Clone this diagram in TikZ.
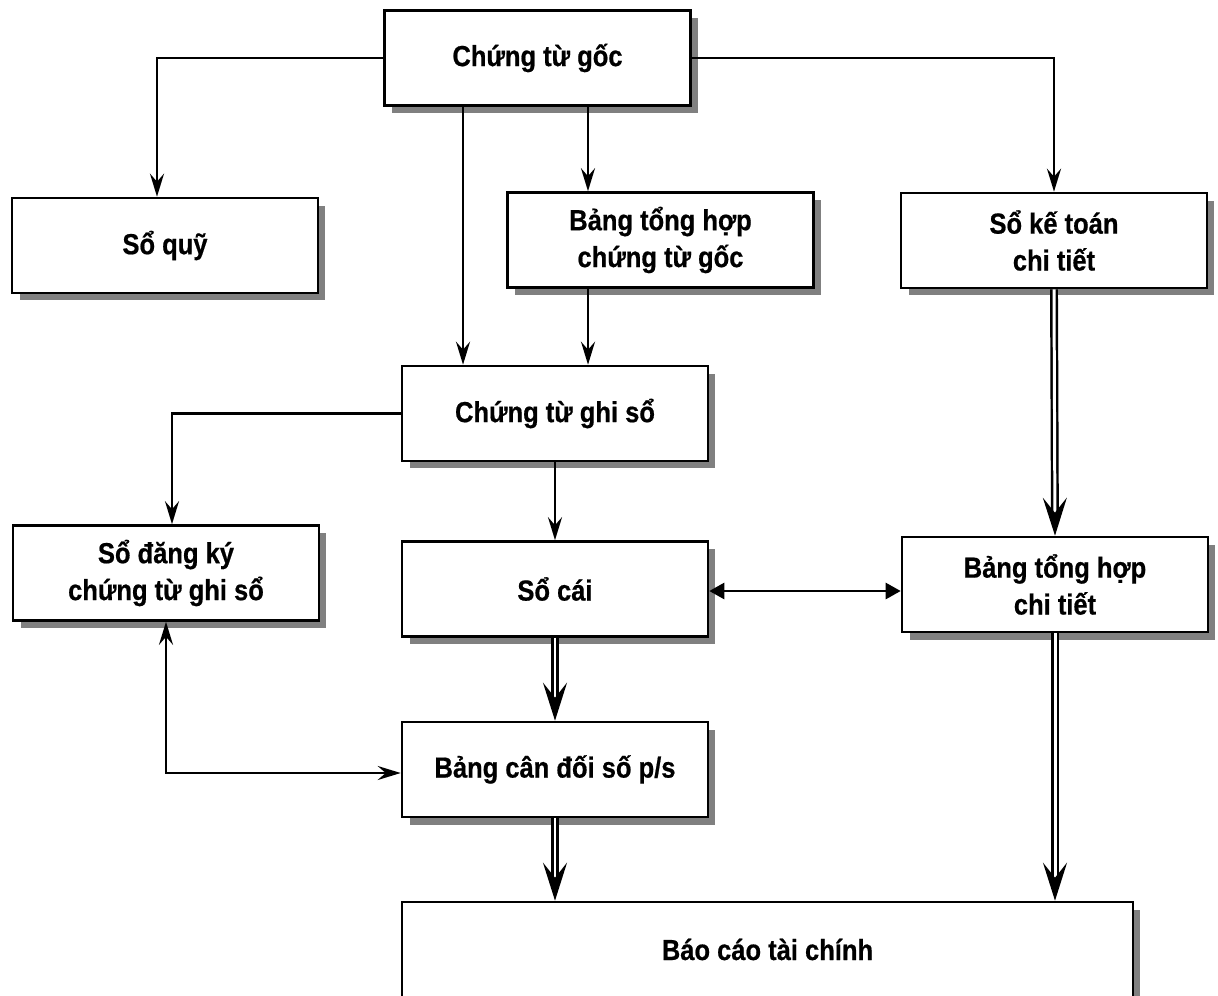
\documentclass[tikz,border=0pt]{standalone}
\usepackage{fontspec}
\setmainfont{Liberation Sans}[FakeStretch=0.88, BoldFeatures={FakeBold=0.6}]
\usetikzlibrary{arrows.meta}
\usetikzlibrary{shadows}

\begin{document}
\begin{tikzpicture}[x=0.02cm, y=-0.02cm, line width=1.5pt]
  \tikzset{box/.style = { draw, rectangle, fill=white, align=center, minimum width = 6.12cm, minimum height = 1.9cm,
      font=\bfseries\fontsize{16.5}{21}\selectfont,
      drop shadow={shadow xshift=0.15cm, shadow yshift=-0.15cm, fill=black!50, opacity=1}}}
  \tikzset{arr/.style={-{Stealth[length=0.46cm, width=0.28cm, inset=0.16cm]}}}
  \tikzset{arrarr/.style={{Stealth[length=0.46cm, width=0.28cm, inset=0.16cm]}-{Stealth[length=0.46cm, width=0.28cm, inset=0.16cm]}}}
  \tikzset{dblarr/.style={double, double distance=1.7pt, line width=1.4pt, -{Stealth[length=0.76cm, width=0.48cm, inset=0.3cm]}}}
  \tikzset{tri/.style={{Triangle[length=0.3cm, width=0.32cm]}-{Triangle[length=0.3cm, width=0.32cm]}}}
  \clip (0,0) rectangle (1218,995);
%  \draw [gray, very thin, step=1cm] (0,0) grid (1218,995);

  \node[name = goc, box] at (537.5,58) {Chứng từ gốc};
  \node[name = quy, box] at (165,245.5) {Sổ quỹ};
  \node[name = bthctg, box] at (660.5,240) {Bảng tổng hợp\\chứng từ gốc};
  \node[name = sktct, box] at (1054,240.5) {Sổ kế toán\\chi tiết};

  \draw [arr] (goc.west) -| ([xshift=-0.16cm]quy.north);
  \draw [arr] (goc.east) -| (sktct.north);
  \draw [arr] ([xshift=1.01cm]goc.south) -- ([xshift=1.01cm]goc.south |- bthctg.north);

  \node[name = ctgs, box] at (555,413.5) {Chứng từ ghi sổ};

  \draw [arr] ([xshift=-1.49cm]goc.south) -- ([xshift=-1.49cm]goc.south |- ctgs.north);
  \draw [arr] ([xshift=-1.45cm]bthctg.south) -- ([xshift=-1.45cm]bthctg.south |- ctgs.north);

  \node[name = sdk, box] at (166,573) {Sổ đăng ký\\chứng từ ghi sổ};
  \node[name = socai, box] at (555,589) {Sổ cái};
  \node[name = bthct, box] at (1055,584.5) {Bảng tổng hợp\\chi tiết};

  \draw [arr] (ctgs.west) -| ([xshift=0.12cm]sdk.north);
  \draw [arr] (ctgs.south) -- (socai.north);
  \draw [dblarr] (sktct.south) -- (bthct.north);
  \draw [tri] ([yshift=-0.04cm]socai.east) -- ([yshift=-0.04cm]socai.east -| bthct.west);

  \node[name = bcd, box] at (555,769.5) {Bảng cân đối số p/s};

  \draw [dblarr] (socai.south) -- (bcd.north);
  \draw [arrarr] (sdk.south) |- ([yshift=-0.07cm]bcd.west);

  \node[name = bctc, box, minimum width=14.62cm] at (767.5,949.5) {Báo cáo tài chính};

  \draw [dblarr] (bcd.south) -- (bcd.south |- bctc.north);
  \draw [dblarr] (bthct.south) -- (bthct.south |- bctc.north);
\end{tikzpicture}
\end{document}
